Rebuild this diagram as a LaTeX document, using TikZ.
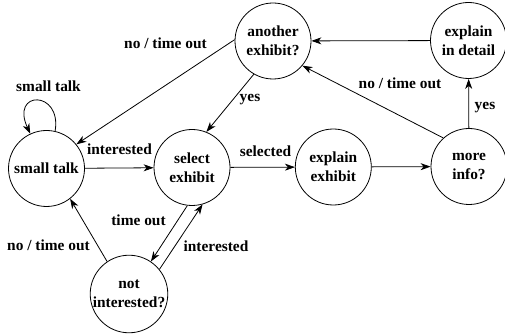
\documentclass[tikz,border=0pt]{standalone}
\usepackage{fontspec}
\setmainfont{Liberation Serif}
\usetikzlibrary{arrows.meta}

\tikzset{
    state/.style={circle, draw, line width=0.8pt, minimum size=76pt, inner sep=0pt,
        align=center, font=\fontsize{15.4}{19}\selectfont\bfseries},
    lbl/.style={anchor=base, inner sep=0pt, font=\fontsize{15.4}{19}\selectfont\bfseries},
    arr/.style={-{Stealth[length=10pt,width=7pt,inset=3pt]}, line width=0.8pt}
}

\begin{document}
\begin{tikzpicture}[x=1pt,y=-1pt]

      \useasboundingbox (0,0) rectangle (505,336);

      % the states
      \node[state] (st) at (46.5,168.5) {small talk};
      \node[state] (se) at (192,167.5) {select\\exhibit};
      \node[state] (ee) at (333.3,167) {explain\\exhibit};
      \node[state] (mi) at (469,166.5) {more\\info?};
      \node[state] (ed) at (468.5,40.5) {explain\\in detail};
      \node[state] (ae) at (273,41) {another\\exhibit?};
      \node[state] (ni) at (129,294) {not\\interested?};

      % the transitions
      \draw[arr] (st.77) .. controls (62,90) and (10,90) .. (st.115);
      \draw[arr] (st) -- (se);
      \draw[arr] (se) -- (ee);
      \draw[arr] (ee) -- (mi);
      \draw[arr] (mi) -- (ed);
      \draw[arr] (ed) -- (ae);
      \draw[arr] (mi.132) -- (ae.320);
      \draw[arr] (ae.178) -- (st.39);
      \draw[arr] (ae.240) -- (se.68);
      \draw[arr] (se.263) -- (ni.56);
      \draw[arr] (ni.39) -- (se.286);
      \draw[arr] (ni.124) -- (st.308);

      \node[lbl] (l1) at (48.5,91.7) {small talk};     % loop label
      \node[lbl] (l2) at (165.5,48.5) {no / time out};  % top left
      \node[lbl] (l3) at (250,101.7) {yes};
      \node[lbl] (l4) at (119.5,155) {interested};
      \node[lbl] (l5) at (265.5,156.5) {selected};
      \node[lbl] (l6) at (400,88.3) {no / time out};    % top right
      \node[lbl] (l7) at (485,110) {yes};
      \node[lbl] (l8) at (138.5,225.7) {time out};
      \node[lbl] (l9) at (48.5,251) {no / time out};    % bottom left
      \node[lbl] (l10) at (216,251.7) {interested};

    \end{tikzpicture}
\end{document}
